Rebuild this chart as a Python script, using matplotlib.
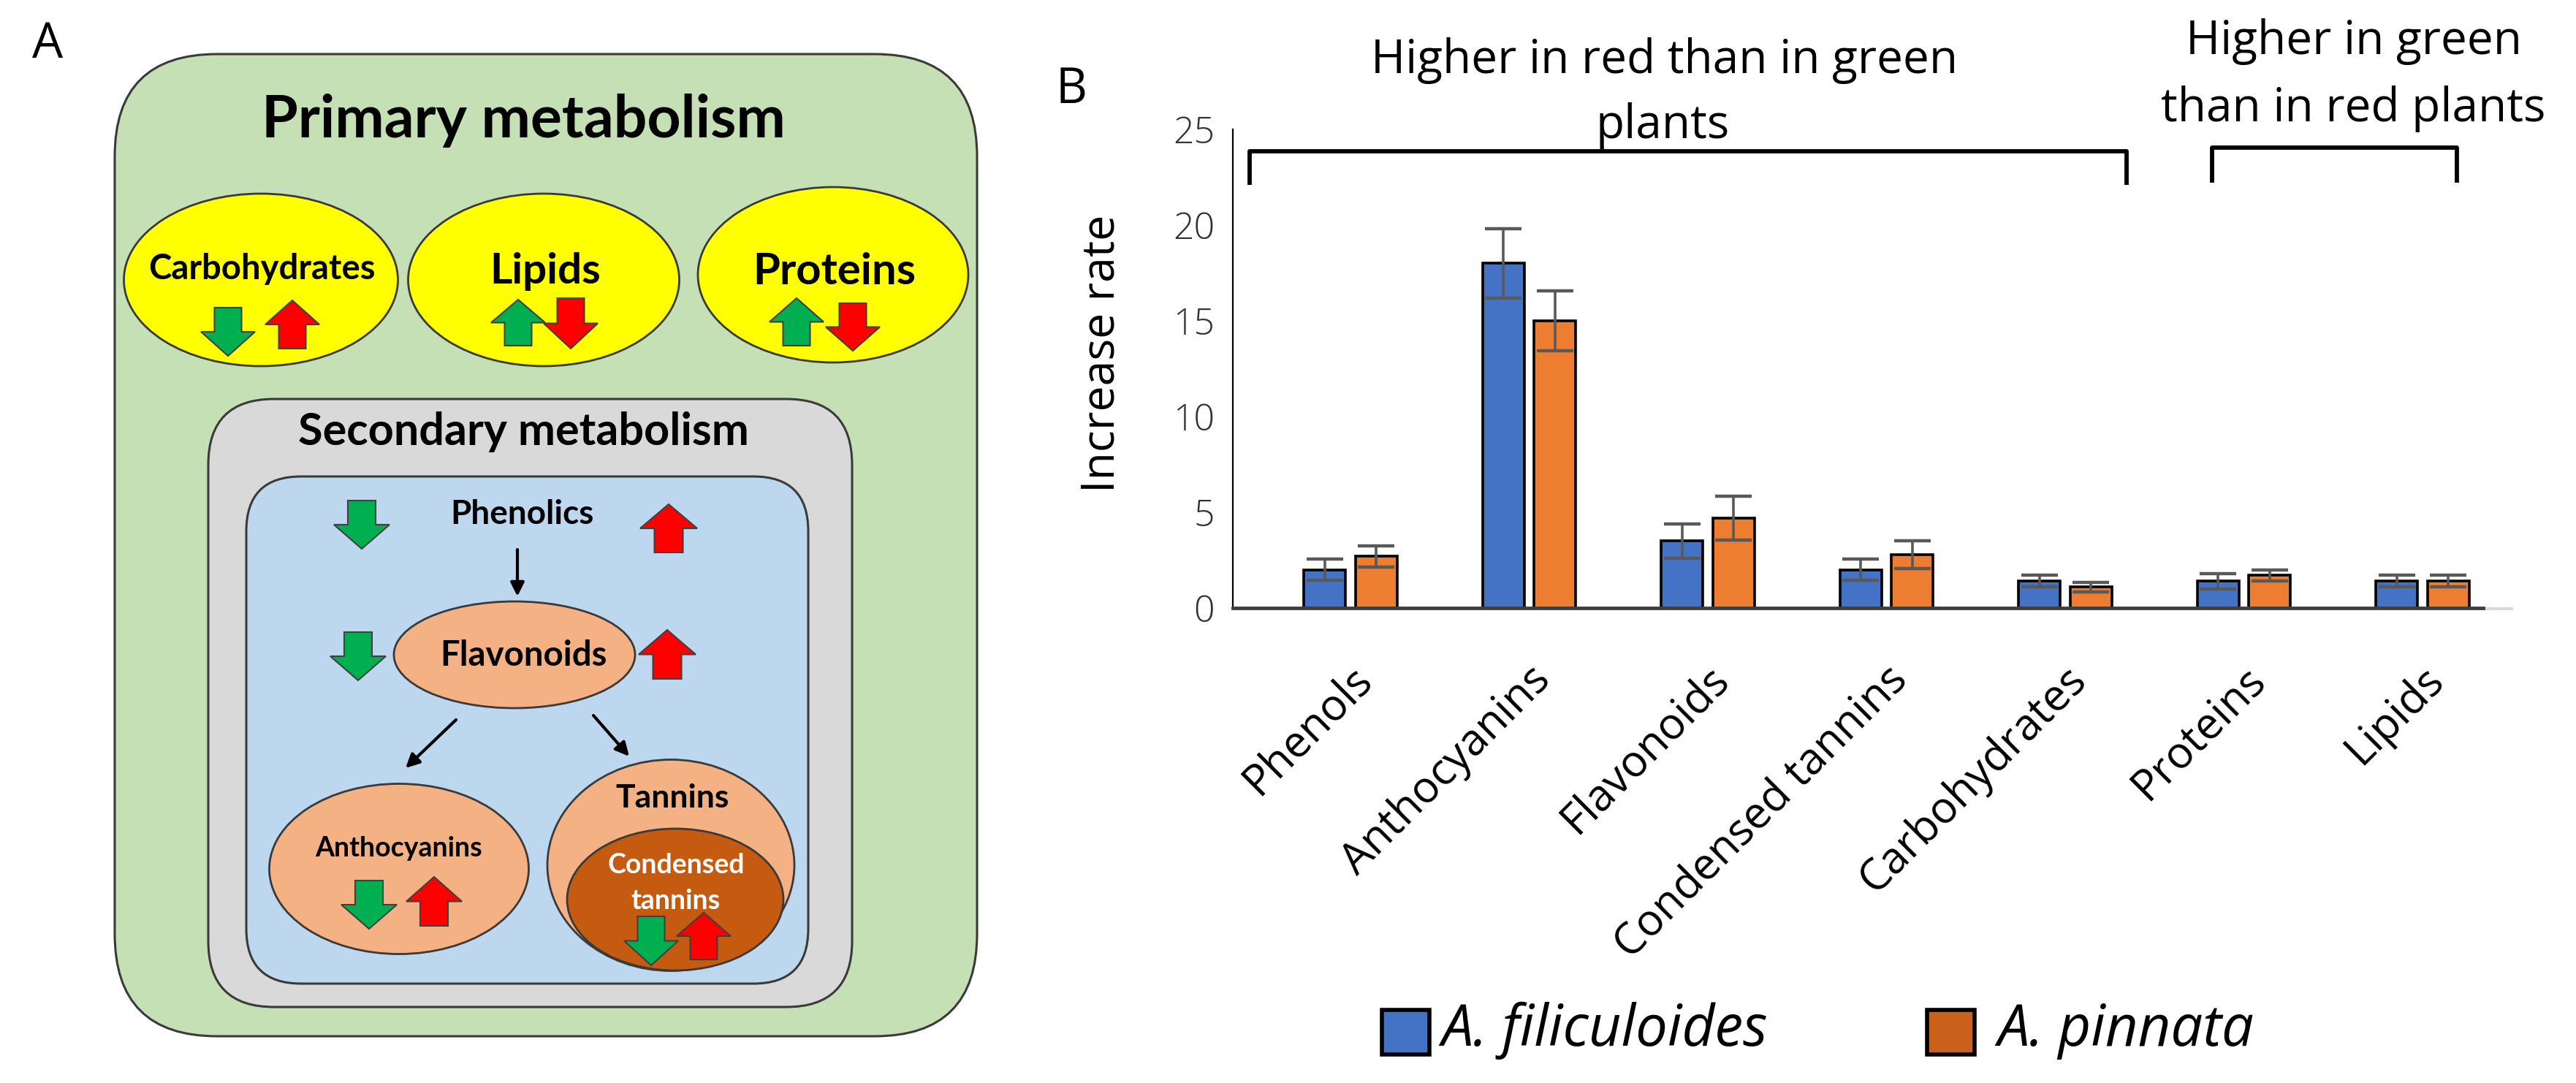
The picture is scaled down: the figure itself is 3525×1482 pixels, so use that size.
import matplotlib
matplotlib.use('Agg')
import matplotlib.pyplot as plt
from matplotlib.patches import FancyBboxPatch, Ellipse, Polygon, Rectangle
import numpy as np

# ---------------- data ----------------
categories = ['Phenols', 'Anthocyanins', 'Flavonoids', 'Condensed tannins',
              'Carbohydrates', 'Proteins', 'Lipids']
filiculoides = [2.0, 18.0, 3.5, 2.0, 1.4, 1.4, 1.4]
filiculoides_err = [0.55, 1.8, 0.9, 0.55, 0.3, 0.4, 0.3]
pinnata = [2.7, 15.0, 4.7, 2.8, 1.1, 1.7, 1.4]
pinnata_err = [0.55, 1.55, 1.15, 0.72, 0.25, 0.3, 0.3]
series_names = ['A. filiculoides', 'A. pinnata']
yticks = [0, 5, 10, 15, 20, 25]
ylabel = 'Increase rate'
group_red = ['Higher in red than in green', 'plants']
group_green = ['Higher in green', 'than in red plants']

plt.rcParams['font.family'] = ['Lato', 'DejaVu Sans']
FB = ['Open Sans', 'DejaVu Sans']   # font for panel B

W, H = 3525, 1482
fig = plt.figure(figsize=(W / 100, H / 100), dpi=100)
fig.patch.set_facecolor('white')

bg = fig.add_axes([0, 0, 1, 1], zorder=0)
bg.set_xlim(0, W)
bg.set_ylim(0, H)
bg.axis('off')


def Y(y):
    return H - y


EC = '#3a3a3a'


def rbox(x0, y0, x1, y1, r, fc):
    p = FancyBboxPatch((x0, Y(y1)), x1 - x0, y1 - y0,
                       boxstyle=f"round,pad=0,rounding_size={r}",
                       fc=fc, ec=EC, lw=2.2)
    bg.add_patch(p)


def ell(cx, cy, w, h, fc):
    bg.add_patch(Ellipse((cx, Y(cy)), w, h, fc=fc, ec=EC, lw=2))


def block_arrow(cx, ytop, ybot, w, up, color):
    hw = w / 2
    sw = w * 0.25
    hh = (ybot - ytop) * 0.5
    if up:
        pts = [(cx - sw, ybot), (cx + sw, ybot), (cx + sw, ytop + hh),
               (cx + hw, ytop + hh), (cx, ytop), (cx - hw, ytop + hh),
               (cx - sw, ytop + hh)]
    else:
        pts = [(cx - sw, ytop), (cx + sw, ytop), (cx + sw, ybot - hh),
               (cx + hw, ybot - hh), (cx, ybot), (cx - hw, ybot - hh),
               (cx - sw, ybot - hh)]
    pts = [(x, Y(y)) for x, y in pts]
    bg.add_patch(Polygon(pts, closed=True, fc=color, ec='#404040', lw=1.5))


GREEN = '#00B050'
RED = '#FF0000'

# ---------------- panel A ----------------
bg.text(65, Y(61), 'A', fontsize=48, ha='center', va='center', family=FB)
rbox(157, 74, 1337, 1418, 140, '#C5E0B4')
bg.text(716, Y(165), 'Primary metabolism', fontsize=58, fontweight='bold',
        ha='center', va='center')

ell(357, 383, 375, 236, '#FFFF00')
ell(744, 383, 371, 236, '#FFFF00')
ell(1140, 376, 370, 240, '#FFFF00')
bg.text(358, Y(368), 'Carbohydrates', fontsize=34, fontweight='bold', ha='center', va='center')
bg.text(746, Y(372), 'Lipids', fontsize=42, fontweight='bold', ha='center', va='center')
bg.text(1142, Y(372), 'Proteins', fontsize=43, fontweight='bold', ha='center', va='center')
block_arrow(312, 421, 487, 74, False, GREEN)
block_arrow(400, 411, 477, 74, True, RED)
block_arrow(709, 410, 473, 74, True, GREEN)
block_arrow(781, 408, 477, 74, False, RED)
block_arrow(1090, 408, 473, 74, True, GREEN)
block_arrow(1167, 415, 480, 74, False, RED)

rbox(285, 546, 1166, 1378, 90, '#D9D9D9')
bg.text(716, Y(591), 'Secondary metabolism', fontsize=44, fontweight='bold',
        ha='center', va='center')
rbox(337, 652, 1106, 1346, 75, '#BDD7EE')
bg.text(714, Y(704), 'Phenolics', fontsize=33, fontweight='bold', ha='center', va='center')
block_arrow(495, 685, 751, 76, False, GREEN)
block_arrow(915, 690, 756, 78, True, RED)

ell(704, 896, 330, 146, '#F4B183')
bg.text(716, Y(897), 'Flavonoids', fontsize=34, fontweight='bold', ha='center', va='center')
block_arrow(490, 865, 931, 76, False, GREEN)
block_arrow(913, 862, 929, 78, True, RED)

for (x0, y0, x1, y1) in [(708, 752, 708, 816), (624, 985, 555, 1051), (812, 979, 861, 1035)]:
    bg.annotate('', xy=(x1, Y(y1)), xytext=(x0, Y(y0)),
                arrowprops=dict(arrowstyle='-|>', lw=3, color='black',
                                mutation_scale=28, shrinkA=0, shrinkB=0))

ell(546, 1189, 355, 233, '#F4B183')
bg.text(546, Y(1161), 'Anthocyanins', fontsize=27, fontweight='bold', ha='center', va='center')
block_arrow(505, 1205, 1271, 76, False, GREEN)
block_arrow(594, 1200, 1267, 76, True, RED)

ell(918, 1184, 338, 289, '#F4B183')
bg.text(920, Y(1092), 'Tannins', fontsize=32, fontweight='bold', ha='center', va='center')
ell(924, 1231, 296, 194, '#C55A11')
bg.text(925, Y(1184), 'Condensed', fontsize=27, fontweight='bold', color='white', ha='center', va='center')
bg.text(925, Y(1233), 'tannins', fontsize=27, fontweight='bold', color='white', ha='center', va='center')
block_arrow(891, 1254, 1321, 74, False, GREEN)
block_arrow(963, 1249, 1313, 74, True, RED)

# ---------------- panel B ----------------
bg.text(1466, Y(123), 'B', fontsize=48, ha='center', va='center', family=FB)

px_per_cat = 244.5
first_center = 1848
ax_l, ax_r, y0px, y25px = 1687, 3398, 832, 177
axb = fig.add_axes([ax_l / W, (H - y0px) / H, (ax_r - ax_l) / W, (y0px - y25px) / H], zorder=2)
axb.patch.set_alpha(0)
axb.set_xlim((ax_l - first_center) / px_per_cat, (ax_r - first_center) / px_per_cat)
axb.set_ylim(0, 25)

x = np.arange(len(categories))
bw = 0.233
off = 0.145
err_kw = dict(ecolor='#595959', elinewidth=2.6, capsize=18, capthick=3.2, zorder=4)
axb.bar(x - off, filiculoides, bw, color='#4472C4', edgecolor='black', lw=2.6,
        yerr=filiculoides_err, error_kw=err_kw, zorder=3)
axb.bar(x + off, pinnata, bw, color='#ED7D31', edgecolor='black', lw=2.6,
        yerr=pinnata_err, error_kw=err_kw, zorder=3)

for s in ['top', 'right']:
    axb.spines[s].set_visible(False)
axb.spines['left'].set_color('black')
axb.spines['left'].set_linewidth(1.6)
axb.spines['bottom'].set_color('#404040')
axb.spines['bottom'].set_linewidth(3.5)
axb.spines['bottom'].set_zorder(5)
axb.set_xticks([])
axb.set_yticks(yticks)
axb.tick_params(axis='y', length=0, pad=18, labelsize=36, labelcolor='#333333')
for lab in axb.get_yticklabels():
    lab.set_family(FB)
    lab.set_fontweight('light')

for i, c in enumerate(categories):
    axb.text(i + 0.08, -3.4, c, rotation=45, ha='right', va='center',
             rotation_mode='anchor', fontsize=43, clip_on=False, family=FB)

bg.plot([3398, 3437], [Y(833), Y(833)], color='#d9d9d9', lw=3)
bg.text(1508, Y(484), ylabel, rotation=90, ha='center', va='center', fontsize=45, family=FB)

# group annotations and brackets
bg.text(2278, Y(83), group_red[0], ha='center', va='center', fontsize=46, family=FB)
bg.text(2275, Y(172), group_red[1], ha='center', va='center', fontsize=46, family=FB)
bg.text(3221, Y(57), group_green[0], ha='center', va='center', fontsize=46, family=FB)
bg.text(3220, Y(149), group_green[1], ha='center', va='center', fontsize=46, family=FB)
bg.plot([1710, 1710, 2910, 2910], [Y(253), Y(207), Y(207), Y(253)], color='black',
        lw=4.2, solid_joinstyle='round', solid_capstyle='butt')
bg.plot([3027, 3027, 3362, 3362], [Y(250), Y(202), Y(202), Y(250)], color='black',
        lw=4.2, solid_joinstyle='round', solid_capstyle='butt')

# legend
bg.add_patch(Rectangle((1891, Y(1443)), 65, 61, fc='#4472C4', ec='black', lw=4))
bg.text(1972, Y(1410), series_names[0], ha='left', va='center', fontsize=56,
        style='italic', family=FB)
bg.add_patch(Rectangle((2637, Y(1443)), 65, 61, fc='#C9601B', ec='black', lw=4))
bg.text(2733, Y(1410), series_names[1], ha='left', va='center', fontsize=56,
        style='italic', family=FB)

fig.savefig('out.png', dpi=100, facecolor='white')
